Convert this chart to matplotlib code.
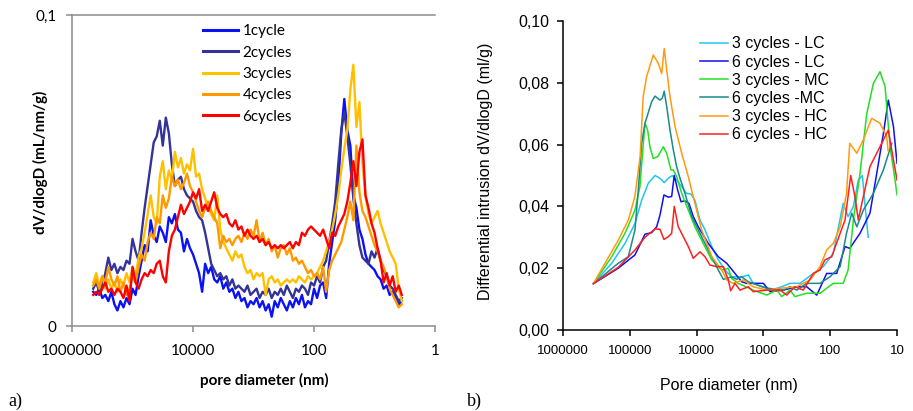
import numpy as np
import matplotlib.pyplot as plt
from matplotlib.ticker import NullLocator

# ---- panel a): dV/dlogD after repeated cycles, values in 1e-3 mL/nm/g ----
log_d_a = [5.65, 5.60, 5.55, 5.50, 5.45, 5.40, 5.35, 5.30, 5.25, 5.20,
           5.15, 5.10, 5.05, 5.00, 4.95, 4.90, 4.85, 4.80, 4.75, 4.70,
           4.65, 4.60, 4.55, 4.50, 4.45, 4.40, 4.35, 4.30, 4.25, 4.20,
           4.15, 4.10, 4.05, 4.00, 3.95, 3.90, 3.85, 3.80, 3.75, 3.70,
           3.65, 3.60, 3.55, 3.50, 3.45, 3.40, 3.35, 3.30, 3.25, 3.20,
           3.15, 3.10, 3.05, 3.00, 2.95, 2.90, 2.85, 2.80, 2.75, 2.70,
           2.65, 2.60, 2.55, 2.50, 2.45, 2.40, 2.35, 2.30, 2.25, 2.20,
           2.15, 2.10, 2.05, 2.00, 1.95, 1.90, 1.85, 1.80, 1.75, 1.70,
           1.65, 1.60, 1.55, 1.50, 1.45, 1.40, 1.35, 1.30, 1.25, 1.20,
           1.15, 1.10, 1.05, 1.00, 0.95, 0.90, 0.85, 0.80, 0.75, 0.70,
           0.65, 0.60, 0.55]

cyc1 = [11, 10, 12, 9, 10, 8, 11, 7, 5, 8,
        6, 9, 7, 12, 10, 16, 21, 26, 24, 34,
        29, 27, 32, 30, 27, 35, 33, 36, 31, 30,
        24, 28, 25, 23, 20, 17, 11, 20, 17, 19,
        15, 14, 16, 12, 14, 11, 12, 9, 11, 8,
        9, 6, 8, 7, 9, 6, 8, 5, 7, 3,
        8, 6, 9, 7, 5, 8, 6, 9, 7, 10,
        6, 8, 7, 12, 9, 13, 14, 9, 20, 27,
        34, 45, 62, 73, 63, 58, 42, 38, 31, 28,
        23, 20, 19, 18, 16, 15, 12, 13, 10, 11,
        9, 7, 8]
cyc2 = [12, 14, 11, 13, 17, 22, 18, 20, 17, 19,
        18, 21, 20, 28, 24, 21, 30, 38, 45, 52,
        59, 61, 66, 58, 67, 62, 52, 45, 47, 48,
        44, 42, 41, 40, 37, 35, 34, 30, 25, 20,
        18, 16, 17, 15, 16, 13, 15, 12, 13, 12,
        11, 13, 10, 11, 12, 9, 11, 10, 12, 9,
        11, 10, 12, 10, 13, 11, 9, 12, 11, 13,
        12, 10, 14, 13, 16, 14, 19, 21, 27, 33,
        40, 52, 63, 69, 61, 52, 41, 33, 26, 22,
        21, 20, 24, 22, 25, 21, 18, 16, 13, 12,
        10, 8, 9]
cyc3 = [14, 17, 13, 16, 12, 15, 12, 14, 11, 15,
        13, 17, 14, 19, 16, 22, 25, 30, 36, 42,
        35, 33, 48, 53, 44, 50, 47, 56, 51, 54,
        49, 52, 50, 57, 48, 49, 44, 41, 38, 36,
        34, 42, 31, 27, 25, 23, 21, 24, 22, 23,
        19, 17, 18, 15, 17, 16, 17, 10, 15, 16,
        14, 15, 13, 14, 15, 14, 15, 14, 16, 15,
        14, 16, 15, 16, 17, 19, 21, 24, 27, 31,
        36, 42, 50, 57, 63, 76, 84, 64, 72, 52,
        42, 36, 33, 35, 37, 33, 30, 27, 24, 22,
        20, 12, 8]
cyc4 = [13, 15, 12, 16, 14, 19, 15, 13, 16, 11,
        14, 10, 12, 16, 14, 19, 23, 21, 27, 30,
        28, 35, 33, 42, 38, 41, 48, 45, 47, 44,
        46, 49, 45, 43, 40, 37, 35, 38, 40, 37,
        35, 33, 25, 29, 27, 28, 26, 28, 29, 27,
        30, 28, 31, 29, 34, 27, 30, 26, 28, 24,
        26, 22, 25, 26, 23, 25, 21, 22, 20, 21,
        19, 17, 18, 16, 17, 15, 19, 11, 18, 21,
        23, 25, 27, 31, 35, 40, 34, 58, 43, 37,
        35, 32, 29, 26, 24, 21, 19, 16, 12, 10,
        8, 6, 7]
cyc6 = [10, 11, 10, 12, 14, 11, 12, 10, 12, 11,
        9, 13, 8, 19, 14, 12, 15, 17, 16, 18,
        17, 20, 21, 16, 14, 24, 29, 31, 35, 39,
        36, 38, 40, 43, 41, 44, 37, 39, 37, 40,
        43, 38, 36, 35, 36, 33, 32, 34, 31, 32,
        29, 31, 29, 28, 29, 27, 28, 26, 27, 25,
        26, 25, 26, 25, 26, 27, 25, 27, 26, 30,
        29, 31, 32, 31, 30, 29, 31, 28, 25, 30,
        29, 32, 34, 36, 40, 46, 53, 45, 56, 60,
        42, 38, 33, 30, 25, 21, 14, 17, 13, 16,
        11, 13, 10]

labels_a = ['1cycle', '2cycles', '3cycles', '4cycles', '6cycles']
series_a = [cyc1, cyc2, cyc3, cyc4, cyc6]
colors_a = ['#0A12F5', '#333399', '#FFC000', '#FF9900', '#FF0000']

# ---- panel b): differential intrusion (ml/g) vs pore diameter (nm) ----
d_lc3 = [350000, 186600, 118000, 83600, 66400, 52800, 42000, 35300, 30500,
         26500, 23100, 19900, 16700, 14100, 12100, 10600, 8900, 7480, 5940,
         4730, 3760, 2990, 2110, 1680, 1420, 1000, 700, 532, 400, 283, 179,
         127, 90, 64, 54, 45, 38, 33, 30, 27]
v_lc3 = [0.0150, 0.0216, 0.0280, 0.0345, 0.0420, 0.0475, 0.0500, 0.0491,
         0.0477, 0.0491, 0.0500, 0.0485, 0.0464, 0.0442, 0.0440, 0.0420,
         0.0356, 0.0324, 0.0270, 0.0227, 0.0194, 0.0172, 0.0172, 0.0178,
         0.0151, 0.0138, 0.0132, 0.0140, 0.0151, 0.0151, 0.0183, 0.0205,
         0.0248, 0.0410, 0.0367, 0.0400, 0.0485, 0.0500, 0.0400, 0.0300]

d_lc6 = [350000, 148600, 83600, 59200, 47000, 39600, 35300, 30800, 26500,
         23600, 21600, 19200, 17100, 14900, 13000, 11200, 9440, 6680, 4730,
         3540, 2660, 2110, 1780, 1000, 796, 504, 317, 225, 159, 113, 80, 60,
         51, 35.8, 25.4, 20.1, 16, 13.5, 11.3, 10]
v_lc6 = [0.0150, 0.0200, 0.0243, 0.0310, 0.0315, 0.0334, 0.0372, 0.0437,
         0.0430, 0.0432, 0.0500, 0.0453, 0.0415, 0.0418, 0.0410, 0.0367,
         0.0334, 0.0280, 0.0237, 0.0216, 0.0183, 0.0156, 0.0151, 0.0151,
         0.0124, 0.0129, 0.0140, 0.0140, 0.0113, 0.0183, 0.0183, 0.0270,
         0.0264, 0.0313, 0.0378, 0.0507, 0.0636, 0.0744, 0.0658, 0.0540]

d_mc3 = [350000, 186600, 118000, 83600, 70400, 65000, 59200, 54000, 49900,
         44500, 38200, 31500, 28000, 24200, 22300, 19900, 16700, 13300, 10600,
         7940, 5940, 4210, 3350, 2990, 2380, 1420, 890, 632, 532, 400, 337,
         225, 142, 90, 64, 54, 45, 35.8, 28.4, 22.6, 18, 15.1, 12.7, 10.7, 10]
v_mc3 = [0.0150, 0.0237, 0.0313, 0.0388, 0.0464, 0.0561, 0.0669, 0.0647,
         0.0593, 0.0555, 0.0561, 0.0593, 0.0572, 0.0518, 0.0518, 0.0496,
         0.0442, 0.0388, 0.0334, 0.0280, 0.0227, 0.0194, 0.0200, 0.0167,
         0.0151, 0.0129, 0.0113, 0.0129, 0.0108, 0.0129, 0.0108, 0.0119,
         0.0119, 0.0151, 0.0151, 0.0194, 0.0356, 0.0507, 0.0700, 0.0798,
         0.0836, 0.0788, 0.0593, 0.0485, 0.0437]

d_mc6 = [350000, 148600, 105200, 83600, 74600, 66400, 59200, 47000, 42000,
         35300, 32600, 30500, 28000, 25000, 22300, 19900, 17700, 14900, 11800,
         9440, 7480, 5940, 4730, 3980, 2990, 2510, 2110, 1680, 890, 504, 400,
         317, 225, 142, 101, 71, 57, 47.6, 40, 31.9, 22.6, 16, 12]
v_mc6 = [0.0150, 0.0216, 0.0237, 0.0324, 0.0453, 0.0604, 0.0669, 0.0739,
         0.0757, 0.0744, 0.0750, 0.0773, 0.0723, 0.0647, 0.0583, 0.0529,
         0.0491, 0.0442, 0.0367, 0.0324, 0.0280, 0.0237, 0.0194, 0.0164,
         0.0172, 0.0164, 0.0172, 0.0156, 0.0135, 0.0129, 0.0140, 0.0129,
         0.0151, 0.0151, 0.0172, 0.0205, 0.0313, 0.0378, 0.0334, 0.0388,
         0.0442, 0.0518, 0.0604]

d_hc3 = [350000, 235000, 149000, 105000, 84000, 70000, 63000, 56000, 44500,
         37400, 33300, 30500, 28000, 25000, 21000, 16700, 13300, 10600, 8400,
         5900, 4200, 3540, 2820, 2000, 1420, 890, 560, 317, 200, 142, 113, 90,
         71, 57, 51, 40, 32, 24, 18, 14.3, 13.6]
v_hc3 = [0.0150, 0.0216, 0.0290, 0.0356, 0.0431, 0.0561, 0.0755, 0.0820,
         0.0890, 0.0863, 0.0830, 0.0911, 0.0841, 0.0755, 0.0658, 0.0572,
         0.0496, 0.0410, 0.0324, 0.0237, 0.0194, 0.0162, 0.0151, 0.0162,
         0.0140, 0.0129, 0.0135, 0.0140, 0.0162, 0.0205, 0.0259, 0.0280,
         0.0334, 0.0442, 0.0604, 0.0572, 0.0615, 0.0685, 0.0669, 0.0626,
         0.0580]

d_hc6 = [350000, 148600, 83600, 59200, 42000, 35300, 30800, 26500, 23600,
         21600, 18800, 15800, 13300, 11200, 8900, 7480, 6300, 5000, 3980,
         3350, 3090, 2660, 2240, 1680, 1420, 890, 560, 448, 337, 253, 179,
         142, 120, 95, 71, 60, 49.3, 42.6, 38, 32, 25.4, 18, 13.5, 11.3, 10]
v_hc6 = [0.0150, 0.0203, 0.0259, 0.0300, 0.0327, 0.0326, 0.0293, 0.0302,
         0.0313, 0.0400, 0.0334, 0.0302, 0.0270, 0.0232, 0.0253, 0.0237,
         0.0210, 0.0205, 0.0205, 0.0162, 0.0127, 0.0151, 0.0129, 0.0140,
         0.0124, 0.0129, 0.0129, 0.0113, 0.0140, 0.0129, 0.0183, 0.0194,
         0.0227, 0.0237, 0.0313, 0.0356, 0.0500, 0.0431, 0.0356, 0.0431,
         0.0529, 0.0593, 0.0647, 0.0550, 0.0485]

labels_b = ['3 cycles - LC', '6 cycles - LC', '3 cycles - MC',
            '6 cycles -MC', '3 cycles - HC', '6 cycles - HC']
series_b = [(d_lc3, v_lc3), (d_lc6, v_lc6), (d_mc3, v_mc3),
            (d_mc6, v_mc6), (d_hc3, v_hc3), (d_hc6, v_hc6)]
colors_b = ['#22C4F2', '#1010F0', '#22E022', '#1A8A8A', '#FF9A10', '#FF2020']

fig = plt.figure(figsize=(9.13, 4.11), dpi=100)

# panel a
gray = '#8C8C8C'
ax1 = fig.add_axes([0.0789, 0.2068, 0.3976, 0.7567])
d_a = 10 ** np.array(log_d_a)
for name, vals, col in zip(labels_a, series_a, colors_a):
    ax1.plot(d_a, np.array(vals) / 1000, color=col, lw=1.7, label=name)
ax1.set_xscale('log')
ax1.set_xlim(1e6, 1)
ax1.set_ylim(0, 0.1)
ax1.set_xticks([1e6, 1e4, 1e2, 1])
ax1.set_xticklabels(['1000000', '10000', '100', '1'])
ax1.xaxis.set_minor_locator(NullLocator())
ax1.set_yticks([0, 0.1])
ax1.set_yticklabels(['0', '0,1'])
ax1.spines['right'].set_visible(False)
for s in ['left', 'bottom', 'top']:
    ax1.spines[s].set_color(gray)
    ax1.spines[s].set_linewidth(1.1)
ax1.tick_params(axis='both', color=gray, width=1.1, length=4, labelsize=11,
                labelfontfamily='Lato')
ax1.tick_params(axis='x', pad=9)
ax1.tick_params(axis='y', pad=7)
ax1.set_xlabel('pore diameter (nm)', fontsize=11, fontweight='bold', family='Lato')
ax1.set_ylabel('dV/dlogD (mL/nm/g)', fontsize=11, fontweight='bold', family='Lato')
ax1.xaxis.set_label_coords(0.529, -0.15)
ax1.yaxis.set_label_coords(-0.066, 0.527)
leg1 = ax1.legend(loc='upper left', bbox_to_anchor=(0.36, 0.97), frameon=False,
                  borderpad=0, borderaxespad=0, handlelength=2.3,
                  handletextpad=0.3, labelspacing=0.48,
                  prop={'family': 'Lato', 'size': 11})
for h in leg1.get_lines():
    h.set_linewidth(2.2)

# panel b
ax2 = fig.add_axes([0.6166, 0.1971, 0.3659, 0.7518])
for name, (d, v), col in zip(labels_b, series_b, colors_b):
    ax2.plot(d, v, color=col, lw=1.1, label=name)
ax2.set_xscale('log')
ax2.set_xlim(1e6, 10)
ax2.set_ylim(0, 0.10)
ax2.set_xticks([1e6, 1e5, 1e4, 1e3, 1e2, 10])
ax2.set_xticklabels(['1000000', '100000', '10000', '1000', '100', '10'])
ax2.xaxis.set_minor_locator(NullLocator())
ax2.set_yticks([0, 0.02, 0.04, 0.06, 0.08, 0.10])
ax2.set_yticklabels(['0,00', '0,02', '0,04', '0,06', '0,08', '0,10'])
ax2.spines['right'].set_visible(False)
ax2.spines['top'].set_visible(False)
for s in ['left', 'bottom']:
    ax2.spines[s].set_linewidth(1.1)
ax2.tick_params(axis='both', width=1.1, length=4)
ax2.tick_params(axis='x', labelsize=9.5, pad=7, labelfontfamily='Liberation Sans')
ax2.tick_params(axis='y', labelsize=11.5, pad=6, labelfontfamily='Liberation Sans')
ax2.set_xlabel('Pore diameter (nm)', fontsize=11.5, family='Liberation Sans')
ax2.set_ylabel('Differential intrusion dV/dlogD (ml/g)', fontsize=11.5,
               family='Liberation Sans')
ax2.xaxis.set_label_coords(0.496, -0.155)
ax2.yaxis.set_label_coords(-0.21, 0.512)
ax2.legend(loc='upper left', bbox_to_anchor=(0.41, 0.95), frameon=False,
           borderpad=0, borderaxespad=0, handlelength=1.75,
           handletextpad=0.25, labelspacing=0.2,
           prop={'family': 'Liberation Sans', 'size': 11.5})

fig.text(0.009, 0.012, 'a)', fontsize=13, family='Liberation Serif')
fig.text(0.511, 0.012, 'b)', fontsize=13, family='Liberation Serif')

fig.savefig('out.png', dpi=100)
